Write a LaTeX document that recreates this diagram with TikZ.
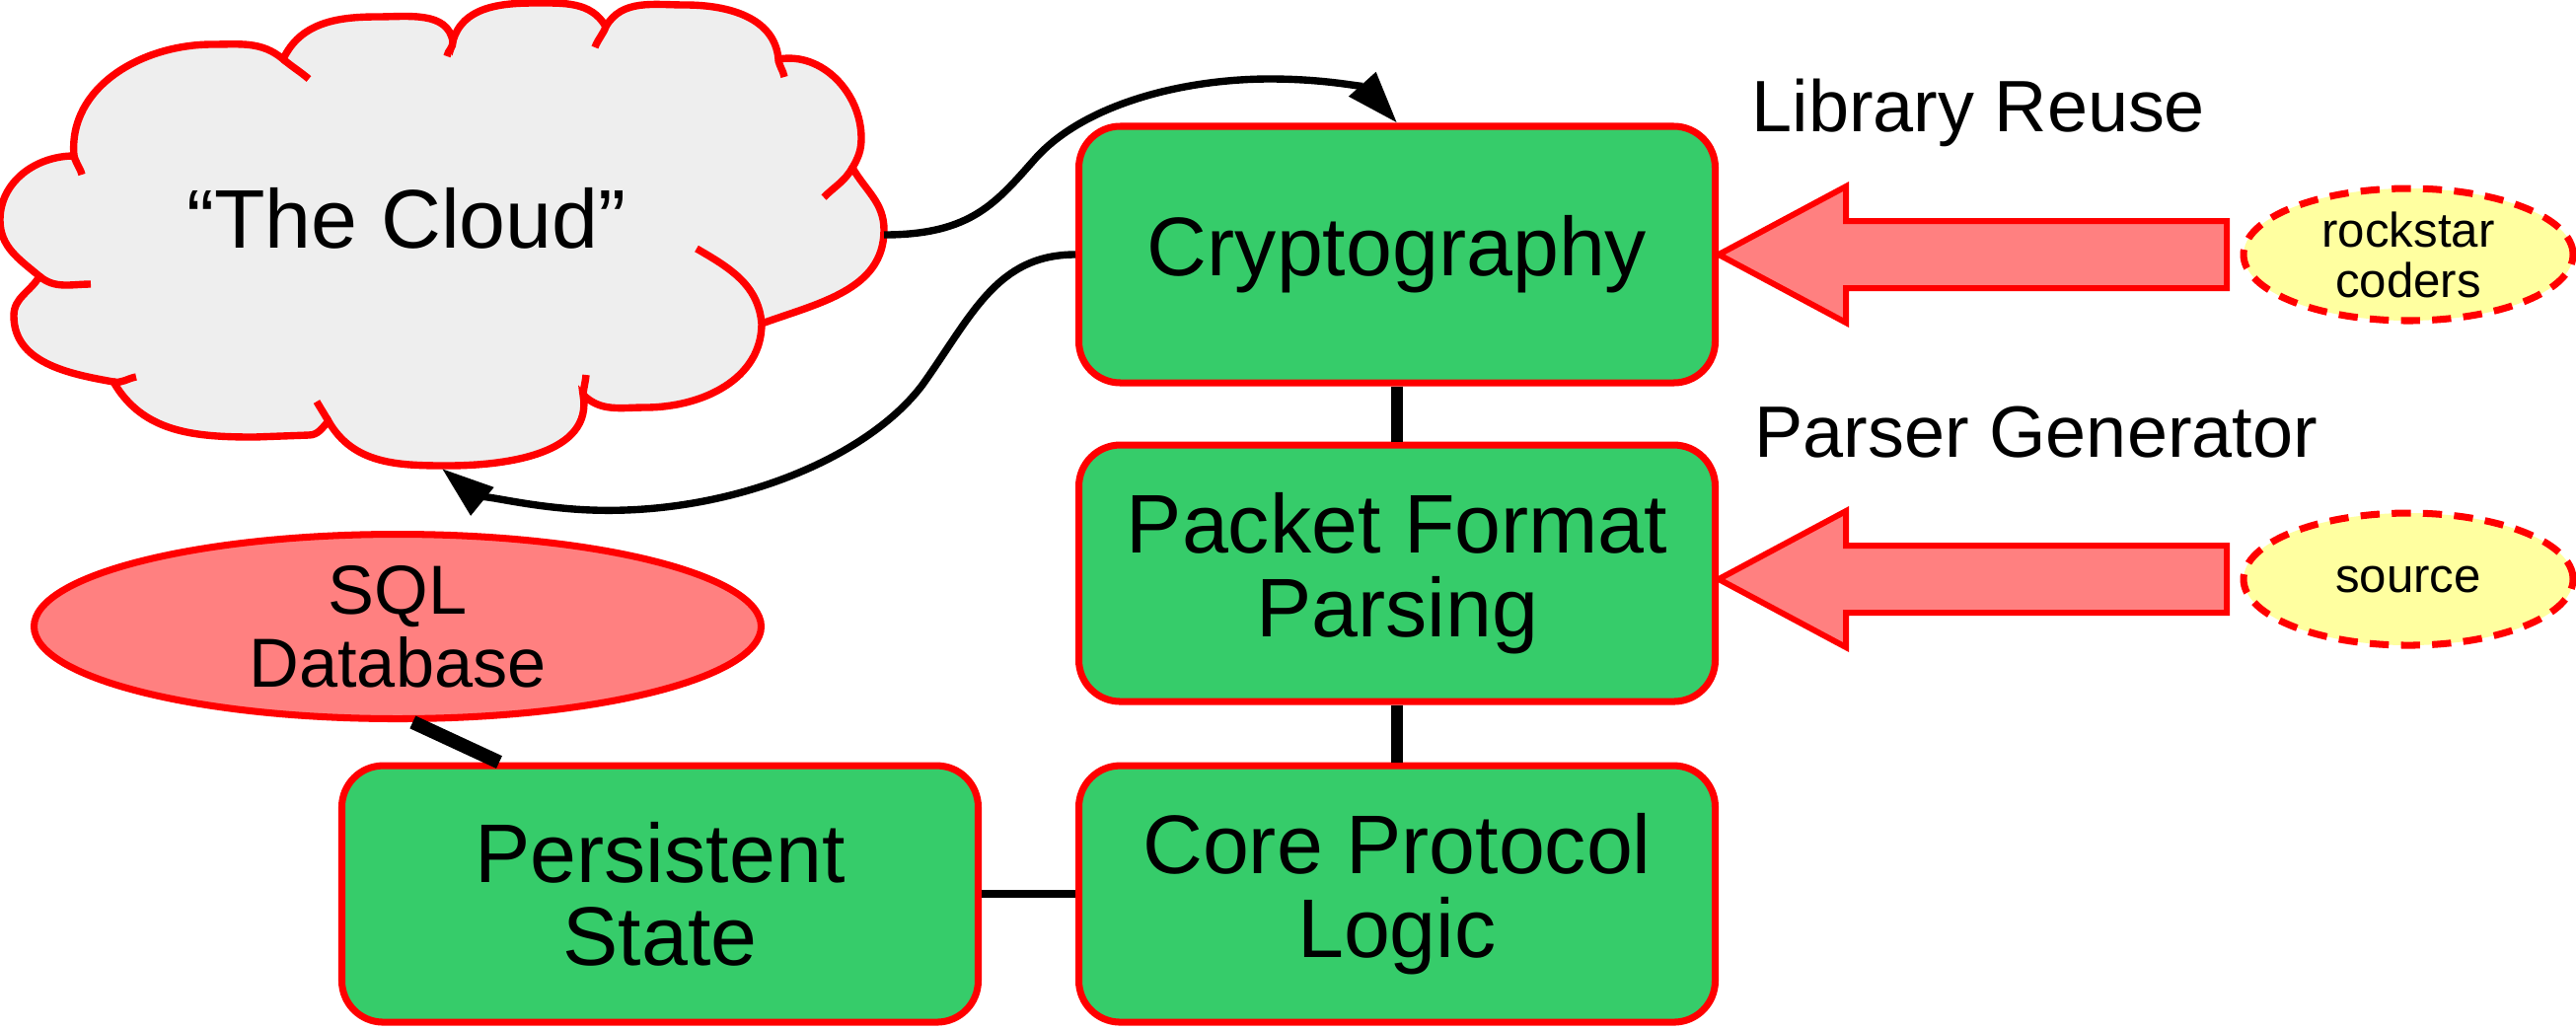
\documentclass[tikz,border=0pt]{standalone}
\usepackage{fontspec}
\setmainfont{Liberation Sans}
\usetikzlibrary{shapes.geometric,arrows.meta,positioning,calc}
\definecolor{boxgreen}{RGB}{54,204,106}
\definecolor{salmon}{RGB}{255,128,128}
\definecolor{paleyellow}{RGB}{255,255,160}
\definecolor{cloudgray}{RGB}{238,238,238}
\tikzstyle{block}=[draw=red, fill=boxgreen, line width=2pt, rounded corners=0.42cm, minimum width=6.45cm, minimum height=2.6cm, align=center, font=\fontsize{24}{24}\selectfont]
\tikzstyle{db}=[ellipse, draw=red, fill=salmon, line width=2pt, minimum width=7.37cm, minimum height=1.87cm, inner sep=0pt, align=center, font=\fontsize{20}{21}\selectfont]
\tikzstyle{who}=[ellipse, draw=red, fill=paleyellow, line width=2pt, dash pattern=on 5.5pt off 3.5pt, minimum width=3.34cm, minimum height=1.34cm, inner sep=0pt, align=center, font=\fontsize{14}{14.5}\selectfont]
\tikzstyle{bigarrow}=[draw=red, fill=salmon, line width=1.7pt, line join=miter]
\tikzstyle{cloudline}=[draw=red, line width=2.1pt]
\tikzstyle{vlink}=[line width=3.2pt]
\tikzstyle{hlink}=[line width=2.3pt]
\tikzstyle{dblink}=[line width=4pt]
\tikzstyle{flow}=[line width=2.1pt,->]
\tikzstyle{lbl}=[anchor=base west, inner sep=0pt, font=\fontsize{21}{21}\selectfont]

\begin{document}
\begin{tikzpicture}[x=0.1mm,y=0.1mm,>={Triangle[length=15pt,width=10pt]}]
    \useasboundingbox (0,0) rectangle (2611,-1043);

    % the cloud, bump by bump
    \path[cloudline,fill=cloudgray] (75,-158)
        to[out=95,in=180] (215,-45) to[out=0,in=140] (287,-60)
        to[out=65,in=180] (382,-17) to[out=0,in=100] (459,-42)
        to[out=75,in=180] (542,-3) to[out=0,in=120] (614,-27)
        to[out=60,in=180] (695,-5) to[out=0,in=95] (789,-60)
        to[out=10,in=90] (873,-140) to[out=-90,in=60] (864,-170)
        to[out=-60,in=90] (896,-233) to[out=-90,in=20] (772,-328)
        to[out=-90,in=0] (654,-413) to[out=180,in=-45] (591,-400)
        to[out=-80,in=0] (453,-472) to[out=180,in=-60] (333,-427)
        to[out=-135,in=0] (313,-441) -- (258,-443)
        to[out=180,in=-60] (115,-387) to[out=170,in=-90] (14,-320)
        to[out=90,in=-120] (40,-280) to[out=140,in=-90] (0,-223)
        to[out=90,in=180] (75,-158) -- cycle;
    % bumps running on inside the cloud
    \draw[cloudline]
        (75,-158) to[out=-75,in=105] (83,-177)
        (287,-60) to[out=-40,in=140] (313,-80)
        (459,-42) to[out=-85,in=80] (453,-57)
        (614,-27) to[out=-110,in=70] (603,-48)
        (789,-60) to[out=-85,in=100] (795,-78)
        (864,-170) to[out=-120,in=45] (835,-200)
        (772,-328) to[out=95,in=-30] (706,-252)
        (591,-400) to[out=85,in=-95] (594,-380)
        (333,-427) to[out=120,in=-60] (321,-407)
        (115,-387) to[out=-10,in=190] (138,-382)
        (40,-280) to[out=-40,in=180] (92,-288);
    \node (cloud) at (412,-221) [font=\fontsize{24}{24}\selectfont] {“The Cloud”};
    \coordinate (cloudR) at (896,-238);
    \coordinate (cloudB) at (448,-475);

    \node (crypto) at (1416,-258) [block] {Cryptography};
    \node (packet) [below=0.56cm of crypto,block] {Packet Format\\Parsing};
    \node (core) [below=0.58cm of packet,block] {Core Protocol\\Logic};
    \node (persist) [left=0.95cm of core,block] {Persistent\\State};
    \node (sql) at (403,-635) [db] {SQL\\Database};

    \node (rock) at (2441,-258) [who] {rockstar\\coders};
    \node (src) [below=1.88cm of rock,who] {source};
    \node (libreuse) at (1775,-133) [lbl] {Library Reuse};
    \node (pargen) at (1778,-463) [lbl] {Parser Generator};

    \draw[vlink] (crypto) -- (packet);
    \draw[vlink] (packet) -- (core);
    \draw[hlink] (persist) -- (core);
    \draw[dblink] (sql.-81) -- ($(persist.north west)!.25!(persist.north east)$);

    \draw[bigarrow] (crypto.east |- rock.west) -- ++(129,69) -- ++(0,-35) -- ++(386,0)
        -- ++(0,-68) -- ++(-386,0) -- ++(0,-35) -- cycle;
    \draw[bigarrow] (packet.east |- src.west) -- ++(129,69) -- ++(0,-35) -- ++(386,0)
        -- ++(0,-68) -- ++(-386,0) -- ++(0,-35) -- cycle;

    \draw[flow] (cloudR) .. controls (985,-238) and (1010,-205) .. (1050,-160)
        .. controls (1100,-105) and (1200,-80) .. (1287,-80)
        .. controls (1350,-80) and (1385,-90) .. (crypto.north);
    \draw[flow] (crypto.west) .. controls (1010,-258) and (985,-320) .. (935,-390)
        .. controls (875,-470) and (720,-530) .. (570,-515)
        .. controls (515,-510) and (475,-497) .. (cloudB);
\end{tikzpicture}
\end{document}
